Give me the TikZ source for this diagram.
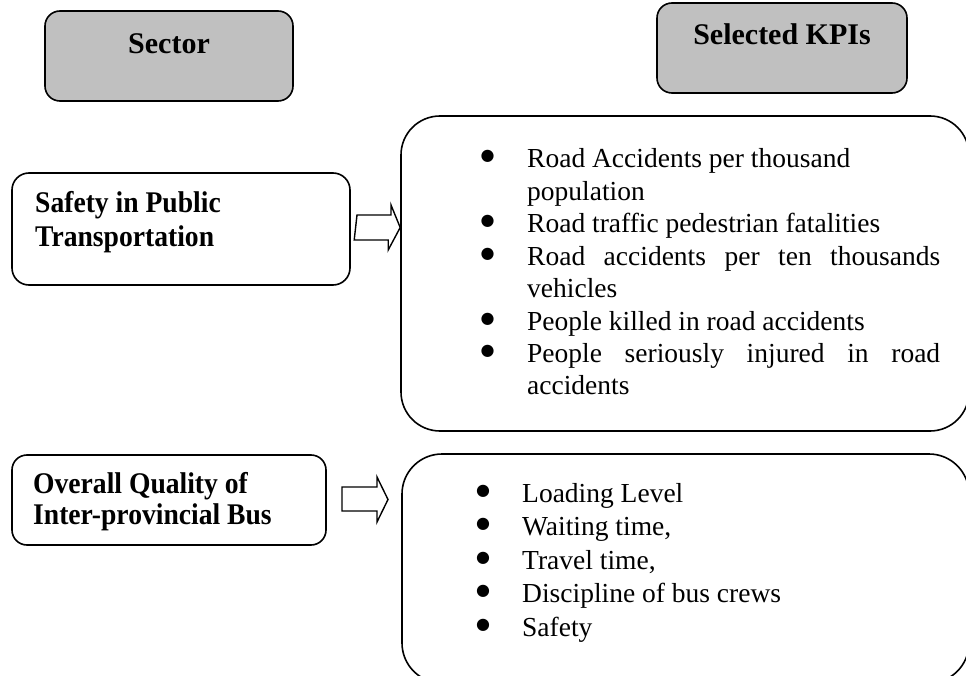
\documentclass[tikz,border=0pt]{standalone}
\usepackage{fontspec}
\setmainfont{Liberation Serif}
\newfontfamily\hdnarrow[FakeStretch=0.92]{Liberation Serif}
\newfontfamily\bulfont{DejaVu Sans}
\definecolor{hdgray}{RGB}{192,192,192}
\begin{document}
\begin{tikzpicture}[x=1pt,y=-1pt,
  box/.style={draw=black, line width=1.6pt, rounded corners=#1, inner sep=0pt},
  hdbox/.style={box=15pt, fill=hdgray, minimum width=248pt, minimum height=90pt},
  hdtext/.style={font=\fontsize{30}{34}\selectfont\bfseries, inner sep=0pt, anchor=base},
  sectext/.style={font=\hdnarrow\fontsize{30}{34}\selectfont\bfseries, inner sep=0pt, anchor=base west},
  kpi/.style={font=\fontsize{27.5}{32}\selectfont, inner sep=0pt, anchor=base west},
  bul/.style={font=\bulfont\fontsize{16}{18}\selectfont, inner sep=0pt, anchor=base},
  blockarrow/.style={draw=black, line width=1.4pt, fill=white, line join=miter}]
\useasboundingbox (0,0) rectangle (966,676);
\clip (0,0) rectangle (966,676);

% headers
\node[hdbox] (sector) at (169,56) {};
\node[hdtext] (sectorT) at (169,54) {Sector};
\node[hdbox, minimum width=250pt] (kpis) at (782,48) {};
\node[hdtext] (kpisT) at (782,45) {Selected KPIs};

% left boxes
\node[box=17pt, minimum width=338pt, minimum height=112pt] (safety) at (181,229) {};
\node[sectext] (safetyA) at (35,213) {Safety in Public};
\node[sectext] (safetyB) at (35,247) {Transportation};

\node[box=15pt, minimum width=314pt, minimum height=90pt] (overall) at (169,500) {};
\node[sectext] (overallA) at (33,493) {Overall Quality of};
\node[sectext] (overallB) at (33,524) {Inter-provincial Bus};

% right boxes
\node[box=39pt, minimum width=568pt, minimum height=315pt] (list1) at (685,273.5) {};
\node[box=40pt, minimum width=567pt, minimum height=229pt] (list2) at (685.5,568.5) {};

% block arrows
\coordinate (a1) at (357,215);
\draw[blockarrow] (a1) -- ++(34,0) -- ++(0,-10) -- (list1.west |- 0,227.5) -- ++(-12,22.5) -- ++(0,-10) -- ++(-34,0) -- cycle;
\coordinate (a2) at (342,487);
\draw[blockarrow] (a2) -- ++(35,0) -- ++(0,-10) -- (388,499.5) -- ++(-11,22.5) -- ++(0,-11) -- ++(-35,0) -- cycle;

% list 1
\node[bul] (b11) at (487.5,161) {●};
\node[kpi] (t11) at (527,168) {Road Accidents per thousand};
\node[kpi] (t12) at (527,200.4) {population};
\node[bul] (b13) at (487.5,225.8) {●};
\node[kpi] (t13) at (527,232.8) {Road traffic pedestrian fatalities};
\node[bul] (b14) at (487.5,258.2) {●};
\node[kpi] (t14) at (527,265.2) {\makebox[413pt][s]{Road accidents per ten thousands}};
\node[kpi] (t15) at (527,297.6) {vehicles};
\node[bul] (b16) at (487.5,323) {●};
\node[kpi] (t16) at (527,330) {People killed in road accidents};
\node[bul] (b17) at (487.5,355.4) {●};
\node[kpi] (t17) at (527,362.4) {\makebox[413pt][s]{People seriously injured in road}};
\node[kpi] (t18) at (527,394.8) {accidents};

% list 2
\node[bul] (b21) at (483,495) {●};
\node[kpi] (t21) at (522,502) {Loading Level};
\node[bul] (b22) at (483,528.5) {●};
\node[kpi] (t22) at (522,535.5) {Waiting time,};
\node[bul] (b23) at (483,562) {●};
\node[kpi] (t23) at (522,569) {Travel time,};
\node[bul] (b24) at (483,595.5) {●};
\node[kpi] (t24) at (522,602.5) {Discipline of bus crews};
\node[bul] (b25) at (483,629) {●};
\node[kpi] (t25) at (522,636) {Safety};
\end{tikzpicture}
\end{document}
